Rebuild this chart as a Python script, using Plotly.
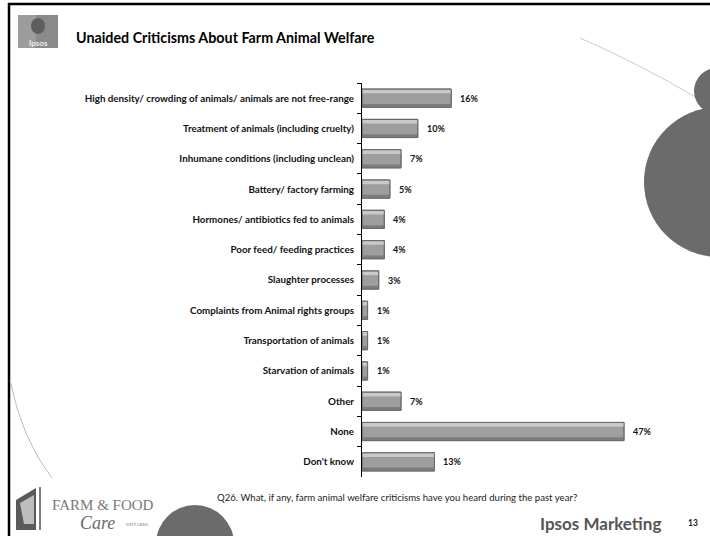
import plotly.graph_objects as go

# Survey responses (Q26), percent of respondents
categories = [
    "High density/ crowding of animals/ animals are not free-range",
    "Treatment of animals (including cruelty)",
    "Inhumane conditions (including unclean)",
    "Battery/ factory farming",
    "Hormones/ antibiotics fed to animals",
    "Poor feed/ feeding practices",
    "Slaughter processes",
    "Complaints from Animal rights groups",
    "Transportation of animals",
    "Starvation of animals",
    "Other",
    "None",
    "Don't know",
]
values = [16, 10, 7, 5, 4, 4, 3, 1, 1, 1, 7, 47, 13]
value_labels = ["16%", "10%", "7%", "5%", "4%", "4%", "3%", "1%", "1%", "1%", "7%", "47%", "13%"]

title_text = "Unaided Criticisms About Farm Animal Welfare"
question_text = "Q26. What, if any, farm animal welfare criticisms have you heard during the past year?"

W, H = 710, 536
FONT = "Lato"


def px(x):
    return x / W


def py(y):
    return 1 - y / H


fig = go.Figure()

# main bar body
fig.add_trace(go.Bar(
    x=values, y=categories, orientation="h",
    width=0.6, offset=-0.3,
    marker=dict(color="#9e9e9e", line=dict(color="#6f6f6f", width=1)),
    hoverinfo="skip", showlegend=False,
))
# light bevel on top edge
fig.add_trace(go.Bar(
    x=values, y=categories, orientation="h",
    width=0.12, offset=-0.28,
    marker=dict(color="#c9c9c9", line=dict(width=0)),
    hoverinfo="skip", showlegend=False,
))
# darker bevel on bottom edge
fig.add_trace(go.Bar(
    x=values, y=categories, orientation="h",
    width=0.1, offset=0.19,
    marker=dict(color="#7c7c7c", line=dict(width=0)),
    hoverinfo="skip", showlegend=False,
))
# outline on top of bevels
fig.add_trace(go.Bar(
    x=values, y=categories, orientation="h",
    width=0.6, offset=-0.3,
    marker=dict(color="rgba(0,0,0,0)", line=dict(color="#6a6a6a", width=1)),
    hoverinfo="skip", showlegend=False,
))

annotations = []
for cat, v, lab in zip(categories, values, value_labels):
    annotations.append(dict(
        x=v, y=cat, xref="x", yref="y", text=lab, showarrow=False,
        xanchor="left", yanchor="middle", xshift=7,
        font=dict(family=FONT, size=9, color="#111111", weight="bold"),
    ))

# title and footer texts
annotations += [
    dict(x=px(74), y=py(37), xref="paper", yref="paper", text=title_text,
         showarrow=False, xanchor="left", yanchor="middle",
         font=dict(family=FONT, size=14.3, color="#000000", weight="bold")),
    dict(x=px(215), y=py(497), xref="paper", yref="paper", text=question_text,
         showarrow=False, xanchor="left", yanchor="middle",
         font=dict(family=FONT, size=9.6, color="#222222")),
    dict(x=px(663), y=py(523), xref="paper", yref="paper", text="Ipsos Marketing",
         showarrow=False, xanchor="right", yanchor="middle",
         font=dict(family=FONT, size=17, color="#555555", weight="bold")),
    dict(x=px(700), y=py(523), xref="paper", yref="paper", text="13",
         showarrow=False, xanchor="right", yanchor="middle",
         font=dict(family=FONT, size=8.5, color="#222222", weight="bold")),
    dict(x=px(38), y=py(43), xref="paper", yref="paper", text="Ipsos",
         showarrow=False, xanchor="center", yanchor="middle",
         font=dict(family=FONT, size=8, color="#eeeeee", weight="bold")),
    dict(x=px(50), y=py(505), xref="paper", yref="paper", text="FARM & FOOD",
         showarrow=False, xanchor="left", yanchor="middle",
         font=dict(family="Liberation Serif", size=15, color="#7a7a7a")),
    dict(x=px(78), y=py(523), xref="paper", yref="paper", text="<i>Care</i>",
         showarrow=False, xanchor="left", yanchor="middle",
         font=dict(family="Liberation Serif", size=18, color="#6a6a6a")),
    dict(x=px(124), y=py(524), xref="paper", yref="paper", text="ONTARIO",
         showarrow=False, xanchor="left", yanchor="middle",
         font=dict(family="Liberation Serif", size=5, color="#777777")),
]

shapes = [
    # slide frame lines
    dict(type="line", xref="paper", yref="paper", x0=px(8), x1=px(710), y0=py(4), y1=py(4),
         line=dict(color="#000000", width=2.5)),
    dict(type="line", xref="paper", yref="paper", x0=px(9), x1=px(9), y0=py(3), y1=py(536),
         line=dict(color="#000000", width=2.5)),
    # thin decorative arcs
    dict(type="path", xref="paper", yref="paper",
         path=f"M {px(580)} {py(38)} Q {px(640)} {py(64)} {px(697)} {py(98)}",
         line=dict(color="#cccccc", width=1)),
    dict(type="path", xref="paper", yref="paper",
         path=f"M {px(10)} {py(380)} Q {px(22)} {py(440)} {px(52)} {py(478)}",
         line=dict(color="#bbbbbb", width=1)),
    # grey circles on the right edge
    dict(type="circle", xref="paper", yref="paper", x0=px(694), x1=px(740), y0=py(68), y1=py(114),
         fillcolor="#6b6b6b", line=dict(width=0)),
    dict(type="circle", xref="paper", yref="paper", x0=px(644), x1=px(794), y0=py(107), y1=py(257),
         fillcolor="#6b6b6b", line=dict(width=0)),
    # grey circle at the bottom
    dict(type="circle", xref="paper", yref="paper", x0=px(156), x1=px(234), y0=py(505), y1=py(583),
         fillcolor="#6b6b6b", line=dict(width=0)),
    # Ipsos badge
    dict(type="rect", xref="paper", yref="paper", x0=px(18), x1=px(58), y0=py(15), y1=py(48),
         fillcolor="#8a8a8a", line=dict(width=0)),
    dict(type="rect", xref="paper", yref="paper", x0=px(18), x1=px(36), y0=py(15), y1=py(48),
         fillcolor="#9c9c9c", line=dict(width=0)),
    dict(type="circle", xref="paper", yref="paper", x0=px(31), x1=px(45), y0=py(18), y1=py(34),
         fillcolor="#5e5e5e", line=dict(width=0)),
    # Farm & Food Care emblem
    dict(type="path", xref="paper", yref="paper",
         path=f"M {px(16)} {py(530)} L {px(16)} {py(500)} L {px(36)} {py(488)} L {px(36)} {py(530)} Z",
         fillcolor="#5a5a5a", line=dict(width=0)),
    dict(type="path", xref="paper", yref="paper",
         path=f"M {px(20)} {py(503)} L {px(34)} {py(495)} L {px(34)} {py(524)} L {px(24)} {py(524)} Z",
         fillcolor="#bdbdbd", line=dict(width=0)),
    dict(type="line", xref="paper", yref="paper", x0=px(40), x1=px(40), y0=py(487), y1=py(530),
         line=dict(color="#555555", width=1.5)),
]

fig.update_layout(
    width=W, height=H,
    margin=dict(l=0, r=0, t=0, b=0),
    paper_bgcolor="#ffffff", plot_bgcolor="rgba(0,0,0,0)",
    barmode="overlay",
    showlegend=False,
    xaxis=dict(
        domain=[px(362), px(362 + 5.575 * 50)], range=[0, 50],
        visible=False, fixedrange=True,
    ),
    yaxis=dict(
        domain=[py(477), py(83)],
        type="category", categoryorder="array", categoryarray=categories,
        autorange="reversed",
        showline=True, linecolor="#000000", linewidth=1,
        ticks="outside", ticklen=4, tickcolor="#000000", tickwidth=1,
        tickson="boundaries", ticklabelstandoff=5,
        showgrid=False, zeroline=False,
        tickfont=dict(family=FONT, size=9.8, color="#111111", weight="bold"),
    ),
    annotations=annotations,
    shapes=shapes,
)

fig.write_html("out.html")
